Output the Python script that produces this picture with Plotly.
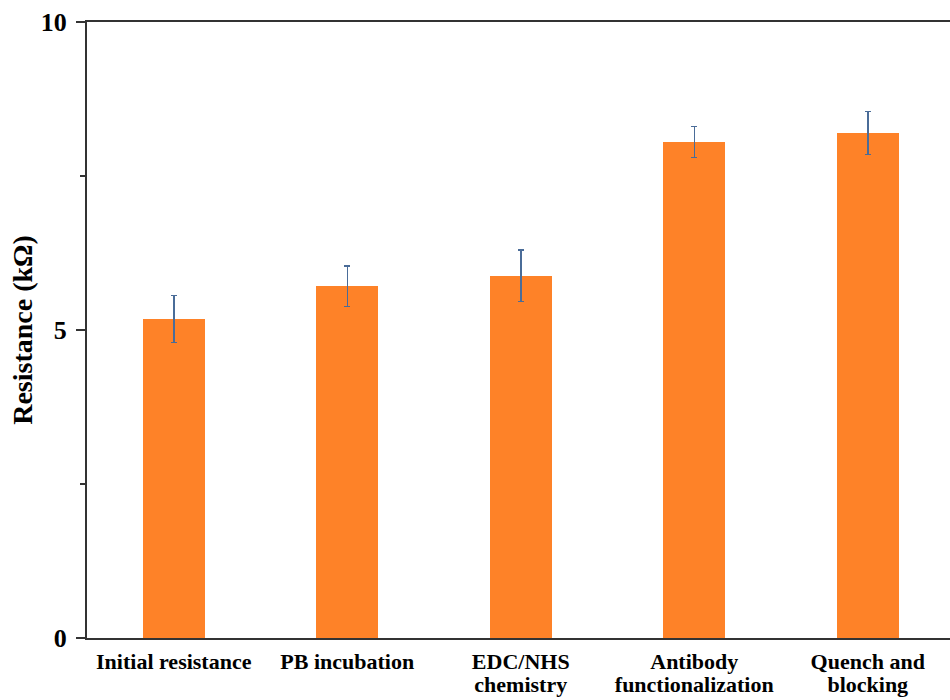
import plotly.graph_objects as go

categories = ["Initial resistance", "PB incubation", "EDC/NHS chemistry",
              "Antibody functionalization", "Quench and blocking"]
label_line1 = ["Initial resistance", "PB incubation", "EDC/NHS",
               "Antibody", "Quench and"]
label_line2 = ["", "", "chemistry", "functionalization", "blocking"]
resistance = [5.18, 5.71, 5.88, 8.05, 8.20]
error = [0.38, 0.33, 0.42, 0.25, 0.35]
y_ticks = [0, 5, 10]

FONT = "Liberation Serif"
AXIS_COLOR = "#333333"
positions = list(range(len(categories)))
X_RANGE = [-0.5, 4.474]

fig = go.Figure()
fig.add_trace(go.Bar(
    x=positions,
    y=resistance,
    width=0.357,
    marker=dict(color="#FE8228", line=dict(width=0)),
    error_y=dict(type="data", array=error, visible=True,
                 color="#4A6C98", thickness=1.5, width=3),
    showlegend=False,
    hovertext=categories,
))
# carrier trace so the second label row (xaxis2) is drawn
fig.add_trace(go.Scatter(
    x=positions, y=resistance, xaxis="x2", mode="markers",
    marker=dict(opacity=0), showlegend=False, hoverinfo="skip",
))

fig.update_layout(
    width=950, height=700,
    margin=dict(l=87, r=0, t=22, b=62, autoexpand=False),
    plot_bgcolor="white", paper_bgcolor="white",
    font=dict(family=FONT, color="black"),
    bargap=0,
    xaxis=dict(
        range=X_RANGE,
        tickmode="array",
        tickvals=positions,
        ticktext=[f"<b>{t}</b>" for t in label_line1],
        tickfont=dict(family=FONT, size=22, color="black"),
        showline=True, linecolor=AXIS_COLOR, linewidth=2, mirror=True,
        ticks="", showgrid=False, zeroline=False,
        ticklabelstandoff=3,
        automargin=False,
    ),
    xaxis2=dict(
        overlaying="x", anchor="y", side="bottom",
        range=X_RANGE,
        tickmode="array", tickvals=positions,
        ticktext=[f"<b>{t}</b>" if t else " " for t in label_line2],
        tickfont=dict(family=FONT, size=22, color="black"),
        showline=False, ticks="", showgrid=False, zeroline=False,
        ticklabelstandoff=31, automargin=False,
    ),
)
fig.update_yaxes(
    range=[0, 10],
    tickmode="array",
    tickvals=y_ticks,
    ticktext=[f"<b>{v}</b>" for v in y_ticks],
    tickfont=dict(family=FONT, size=26, color="black"),
    showline=True, linecolor=AXIS_COLOR, linewidth=2,
    ticks="outside", ticklen=9, tickwidth=2, tickcolor=AXIS_COLOR,
    minor=dict(tickvals=[2.5, 7.5], ticks="outside", ticklen=5,
               tickwidth=2, tickcolor=AXIS_COLOR, showgrid=False),
    showgrid=False, zeroline=False,
    ticklabelstandoff=4,
    automargin=False,
    title=dict(text="<b>Resistance (kΩ)</b>",
               font=dict(family=FONT, size=28, color="black"),
               standoff=0),
)

fig.write_html("out.html")
